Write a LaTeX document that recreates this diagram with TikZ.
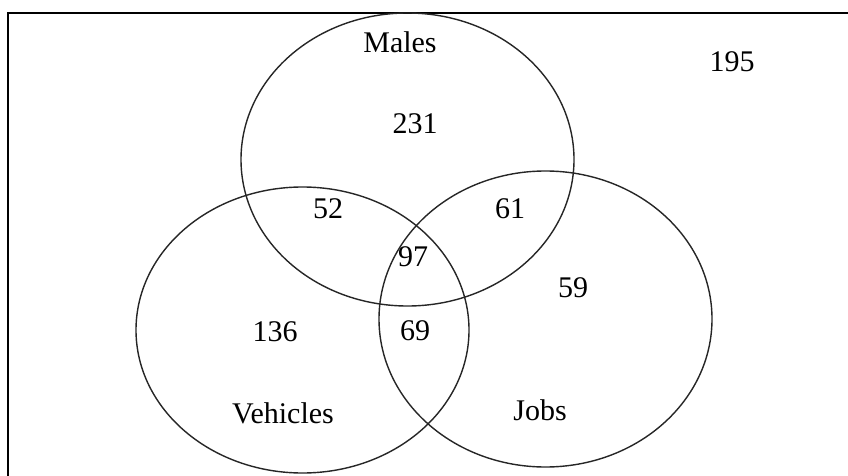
\documentclass[tikz,border=0pt]{standalone}
\usepackage{fontspec}
\setmainfont{Liberation Serif}
\usetikzlibrary{shapes.geometric}
\begin{document}
\begin{tikzpicture}[x=1pt,y=-1pt,
  setshape/.style={draw=black!85, line width=1.4pt, ellipse, inner sep=0pt,
    minimum width=333pt, minimum height=293pt},
  lbl/.style={font=\fontsize{30}{36}\selectfont, inner sep=0pt, anchor=base}]
\useasboundingbox (0,0) rectangle (848,476);
\clip (0,0) rectangle (848,476);
\fill[white] (0,0) rectangle (848,476);
\draw[line width=1.6pt] (8,13) rectangle (870,500);
\node[setshape] (males) at (407.5,159.5) {};
\node[setshape, minimum height=286pt] (vehicles) at (302.5,330) {};
\node[setshape, minimum height=296pt] (jobs) at (545.5,319) {};
\node[lbl] (tmales) at (400,53) {Males};
\node[lbl] (tout) at (732,72) {195};
\node[lbl] (t231) at (415,134) {231};
\node[lbl] (t52) at (328,218) {52};
\node[lbl] (t61) at (510,218) {61};
\node[lbl] (t97) at (413,266) {97};
\node[lbl] (t59) at (573,297) {59};
\node[lbl] (t136) at (275,341) {136};
\node[lbl] (t69) at (415,340) {69};
\node[lbl] (tveh) at (283,423) {Vehicles};
\node[lbl] (tjobs) at (540,420) {Jobs};
\end{tikzpicture}
\end{document}
